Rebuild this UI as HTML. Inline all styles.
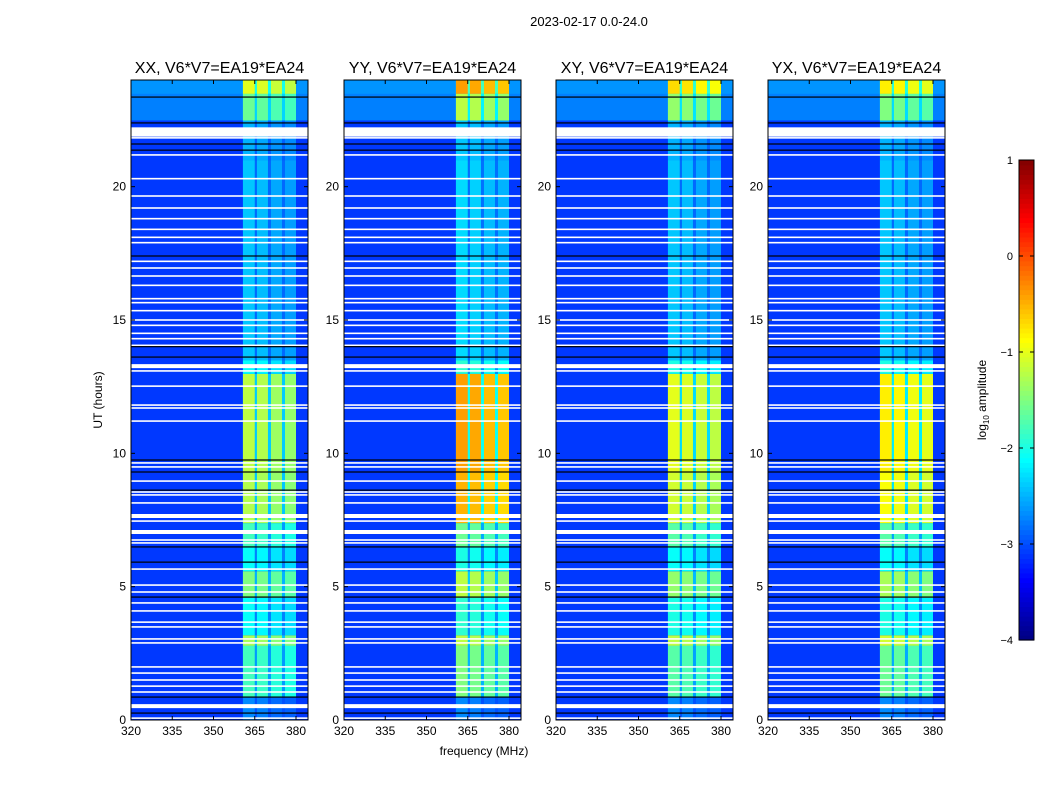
<!DOCTYPE html>
<html><head><meta charset="utf-8"><style>
body{margin:0;background:#fff;}
svg{display:block;font-family:"Liberation Sans","DejaVu Sans",sans-serif;}
</style></head><body>
<svg id="fig" width="1050" height="800" viewBox="0 0 1050 800" xmlns="http://www.w3.org/2000/svg">
<rect x="0" y="0" width="1050" height="800" fill="#fff"/>
<text x="589" y="26" font-size="13" text-anchor="middle">2023-02-17 0.0-24.0</text>
<text x="484" y="755" font-size="12" text-anchor="middle">frequency (MHz)</text>
<text transform="translate(102,400) rotate(-90)" font-size="12" text-anchor="middle">UT (hours)</text>
<text transform="translate(986,400) rotate(-90)" font-size="12" text-anchor="middle">log<tspan font-size="8" dy="3">10</tspan><tspan dy="-3"> amplitude</tspan></text>
</svg>
<script>
// ---- data ----
const panelTitles = ["XX, V6*V7=EA19*EA24","YY, V6*V7=EA19*EA24","XY, V6*V7=EA19*EA24","YX, V6*V7=EA19*EA24"];
const xTicks = [320,335,350,365,380];
const yTicks = [0,5,10,15,20];
const cbTicks = [1,0,-1,-2,-3,-4];
const segStart = [0,0.9,2.8,3.2,4.6,5.6,6.5,7.4,9.3,13.0,13.5,21.0,22.5,23.5];
const segEnd   = [0.9,2.8,3.2,4.6,5.6,6.5,7.4,9.3,13.0,13.5,21.0,22.5,23.5,24];
const bgLevel  = [-3.1,-3.1,-3.1,-3.1,-3.1,-3.1,-3.1,-3.1,-3.1,-3.1,-3.1,-3.1,-2.75,-2.65];
const bandXX = [-2.8,-1.9,-1.4,-2.2,-1.6,-2.2,-1.9,-1.35,-1.3,-2.2,-2.5,-2.6,-1.7,-1.1];
const bandYY = [-2.8,-1.6,-1.3,-2.0,-1.3,-2.1,-1.7,-0.6,-0.5,-2.0,-2.4,-2.5,-1.3,-0.5];
const bandXY = [-2.8,-1.8,-1.3,-2.1,-1.5,-2.2,-1.8,-1.2,-1.1,-2.1,-2.5,-2.6,-1.5,-0.8];
const bandYX = [-2.8,-1.7,-1.2,-2.1,-1.4,-2.2,-1.8,-1.0,-0.9,-2.1,-2.5,-2.6,-1.6,-0.9];
const colLo = [360.7,365.8,370.9,376.0];
const colHi = [365.0,369.8,374.9,380.0];
const colOffset = [0.1,0.05,-0.05,-0.1];
const whiteHours = [0.07,1.05,1.27,1.5,1.76,1.99,2.89,3.04,3.49,3.67,4.09,4.39,4.8,5.06,5.66,6.64,6.75,7.46,8.14,8.44,8.55,8.96,9.49,9.64,11.21,11.7,11.81,12.52,13.09,14.05,14.3,14.5,14.8,15.0,15.35,15.65,15.8,16.3,16.65,16.95,17.2,17.9,18.1,18.4,18.8,19.2,19.65,20.3,21.19,21.83];
const whiteThick = [[0.52,0.15],[7.05,0.15],[7.65,0.15],[13.27,0.15],[22.05,0.35]];
const blackHours = [0.26,0.86,4.61,5.92,6.49,8.62,9.3,9.75,13.61,14.0,17.4,21.37,21.6,22.39,23.36];
// ---- layout ----
const panelLeft = [131,344,556,768];
const PW = 177, TOP = 80, BOT = 720;
const svg = document.getElementById('fig');
const NS = 'http://www.w3.org/2000/svg';
function jet(v){const t=Math.max(0,Math.min(1,(v+4)/5));const c=x=>Math.round(255*Math.max(0,Math.min(1,1.5-Math.abs(x))));return `rgb(${c(4*t-3)},${c(4*t-2)},${c(4*t-1)})`;}
function mk(tag,attrs,parent){const e=document.createElementNS(NS,tag);for(const k in attrs)e.setAttribute(k,attrs[k]);(parent||svg).appendChild(e);return e;}
const yS = h => BOT - h*(BOT-TOP)/24;
const bands = [bandXX,bandYY,bandXY,bandYX];
for(let p=0;p<4;p++){
  const L = panelLeft[p];
  const xS = f => L + (f-320)*2.75;
  const g = mk('g',{});
  
  
  for(let i=0;i<segStart.length;i++){
    const y0=yS(segEnd[i]), y1=yS(segStart[i]);
    const r=mk('rect',{x:L,y:y0,width:PW,height:y1-y0+0.5,fill:jet(bgLevel[i])},g);
    
    
    const bv=bands[p][i];
    const gap=mk('rect',{x:xS(colLo[0]),y:y0,width:xS(colHi[3])-xS(colLo[0]),height:y1-y0+0.5,fill:jet(bv*0.4+bgLevel[i]*0.6)},g);
    
    
    for(let c=0;c<colLo.length;c++){
      const cell=mk('rect',{x:xS(colLo[c]),y:y0,width:xS(colHi[c])-xS(colLo[c]),height:y1-y0+0.5,fill:jet(bv+colOffset[c])},g);
      
      
    }
  }
  whiteHours.forEach(h=>{const l=mk('rect',{x:L,y:yS(h)-0.8,width:PW,height:1.6,fill:'#fff'},g);
    
    });
  whiteThick.forEach(([h,w])=>{const l=mk('rect',{x:L,y:yS(h+w/2),width:PW,height:w*(BOT-TOP)/24,fill:'#fff'},g);
    
    });
  blackHours.forEach(h=>{const l=mk('rect',{x:L,y:yS(h)-0.6,width:PW,height:1.2,fill:'#000'},g);
    
    });
  const fr=mk('rect',{x:L,y:TOP,width:PW,height:BOT-TOP,fill:'none',stroke:'#000','stroke-width':1},g);
  
  
  const t=mk('text',{x:L+PW/2,y:73,'font-size':16,'text-anchor':'middle'},g);
  t.textContent=panelTitles[p];
  
  
  xTicks.forEach(v=>{const x=xS(v);
    mk('line',{x1:x,x2:x,y1:BOT,y2:BOT-4,stroke:'#000'},g);
    mk('line',{x1:x,x2:x,y1:TOP,y2:TOP+4,stroke:'#000'},g);
    const tl=mk('text',{x:x,y:BOT+15,'font-size':12,'text-anchor':'middle'},g);tl.textContent=v;
    
    });
  yTicks.forEach(v=>{const y=yS(v);
    mk('line',{x1:L,x2:L+4,y1:y,y2:y,stroke:'#000'},g);
    mk('line',{x1:L+PW,x2:L+PW-4,y1:y,y2:y,stroke:'#000'},g);
    const tl=mk('text',{x:L-5,y:y+4,'font-size':12,'text-anchor':'end'},g);tl.textContent=v;
    
    });
}
// colorbar
const cbX=1019, cbW=15, cbTop=160, cbBot=640;
const cbY = v => cbBot - (v+4)*(cbBot-cbTop)/5;
const cg=mk('g',{});


for(let i=0;i<100;i++){const v0=-4+i*0.05;
  const r=mk('rect',{x:cbX,y:cbY(v0+0.05),width:cbW,height:(cbBot-cbTop)/100+0.6,fill:jet(v0+0.025)},cg);
  
  }
mk('rect',{x:cbX,y:cbTop,width:cbW,height:cbBot-cbTop,fill:'none',stroke:'#000'},cg);
cbTicks.forEach(v=>{const y=cbY(v);
  mk('line',{x1:cbX,x2:cbX+4,y1:y,y2:y,stroke:'#000'},cg);
  mk('line',{x1:cbX+cbW,x2:cbX+cbW-4,y1:y,y2:y,stroke:'#000'},cg);
  const tl=mk('text',{x:cbX-6,y:y+4,'font-size':11,'text-anchor':'end'},cg);tl.textContent=v<0?'\u2212'+(-v):v;
  
  });
</script>
</body></html>
